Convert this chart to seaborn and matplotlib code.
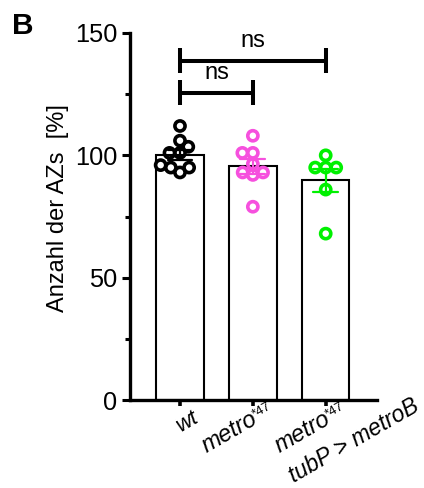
import numpy as np
import pandas as pd
import matplotlib
matplotlib.use("Agg")
import matplotlib.pyplot as plt
import matplotlib.transforms as mtransforms
import seaborn as sns

# ---- data ----
groups = ["wt", "metro47", "rescue"]
wt_vals = [112, 106, 103.5, 101, 101, 95, 95, 96, 93]
metro_vals = [108, 101, 101, 96.5, 93, 93, 92, 79]
rescue_vals = [100, 95, 95, 95, 86, 68]
colors = ["#000000", "#F650DE", "#00F000"]
tick_labels = ["wt", "metro", "metro"]
tick_sups = [None, "*47", "*47"]
rescue_line2 = "tubP > metroB"
ylabel = "Anzahl der AZs  [%]"
# significance brackets: (x1, x2, level, text)
brackets = [(0, 2, 138.7, "ns"), (0, 1, 125.6, "ns")]

df = pd.DataFrame({
    "group": ["wt"] * len(wt_vals) + ["metro47"] * len(metro_vals) + ["rescue"] * len(rescue_vals),
    "value": wt_vals + metro_vals + rescue_vals,
})

sns.set_theme(style="ticks")
plt.rcParams["font.family"] = ["Liberation Sans", "DejaVu Sans"]
plt.rcParams["axes.edgecolor"] = "black"
plt.rcParams["xtick.color"] = "black"
plt.rcParams["ytick.color"] = "black"

fig = plt.figure(figsize=(4.24, 4.88), dpi=100)
ax = fig.add_axes([130 / 424, 1 - 400 / 488, 247 / 424, 367 / 488])

sns.barplot(data=df, x="group", y="value", order=groups, color="white",
            edgecolor="black", linewidth=1.5, errorbar="se", capsize=0.34,
            err_kws={"linewidth": 1.6}, width=0.65, ax=ax)
for ln, c in zip(ax.lines, colors):
    ln.set_color(c)
    ln.set_zorder(4)
for p in ax.patches:
    p.set_facecolor("white")
    p.set_edgecolor("black")

ax.set_xlim(-0.686, 2.704)
ax.set_ylim(0, 150)

# swarm computed with a slightly smaller collision size (points overlap a bit, as in the original)
sns.swarmplot(data=df, x="group", y="value", order=groups, hue="group",
              hue_order=groups, palette=colors, size=5.6, linewidth=1.6,
              legend=False, ax=ax, zorder=3)
for coll in ax.collections:
    if "draw" in coll.__dict__:
        del coll.__dict__["draw"]
    fc = coll.get_facecolor()
    coll.set_edgecolor(fc)
    coll.set_facecolor("none")
    coll.set_sizes([7.3 ** 2])
    coll.set_linewidth(2.6)

ax.set_xlim(-0.686, 2.704)
ax.set_ylim(0, 150)
ax.set_yticks([0, 50, 100, 150])
ax.set_yticks([25, 75, 125], minor=True)
ax.set_xlabel("")
ax.set_ylabel("")
for s in ["left", "bottom"]:
    ax.spines[s].set_linewidth(2.4)
    ax.spines[s].set_color("black")
sns.despine(ax=ax)

ax.tick_params(axis="y", which="major", length=5.8, width=2.2, labelsize=18.3, pad=3.5, color="black", labelcolor="black")
ax.tick_params(axis="y", which="minor", length=3.6, width=2.2, color="black")
ax.tick_params(axis="x", which="major", length=4.3, width=2.6, labelsize=17, pad=1, color="black", labelcolor="black")

ax.set_xticks([0, 1, 2])
ax.set_xticklabels(tick_labels, rotation=30, ha="right", va="top", rotation_mode="anchor")
labs = ax.get_xticklabels()
shifts = [0.12, -0.03, -0.03]
for lab, dx, sup in zip(labs, shifts, tick_sups):
    lab.set_fontstyle("italic")
    lab.set_transform(lab.get_transform() + mtransforms.ScaledTranslation(dx, 0.0, fig.dpi_scale_trans))
    if sup:
        ax.annotate(sup, xy=(1, 1), xycoords=lab, xytext=(-4.6, -8.0),
                    textcoords="offset points", rotation=30, rotation_mode="anchor",
                    ha="left", va="baseline", fontsize=9.5, color="black",
                    annotation_clip=False)
labs[0].set_fontsize(16)

ax.annotate(rescue_line2, xy=(2, 0), xycoords=("data", "axes fraction"), xytext=(62.0, 4.0),
            textcoords="offset points", rotation=30, rotation_mode="anchor",
            ha="right", va="top", fontstyle="italic", fontsize=16.5,
            color="black", annotation_clip=False)

for x1, x2, lvl, txt in brackets:
    h = 5.1
    ax.plot([x1, x2], [lvl, lvl], color="black", lw=2.9, clip_on=False, solid_capstyle="butt")
    ax.plot([x1, x1], [lvl - h, lvl + h], color="black", lw=2.9, clip_on=False, solid_capstyle="butt")
    ax.plot([x2, x2], [lvl - h, lvl + h], color="black", lw=2.9, clip_on=False, solid_capstyle="butt")
    ax.text((x1 + x2) / 2, lvl + h + 0.3, txt, ha="center", va="baseline", fontsize=17, color="black", clip_on=False)

fig.text(58 / 424, 1 - 208 / 488, ylabel, rotation=90, ha="center", va="center", fontsize=17, color="black")
fig.text(12 / 424, 1 - 34.3 / 488, "B", fontweight="bold", fontsize=21.5, ha="left", va="baseline", color="black")

fig.savefig("out.png", dpi=100)
